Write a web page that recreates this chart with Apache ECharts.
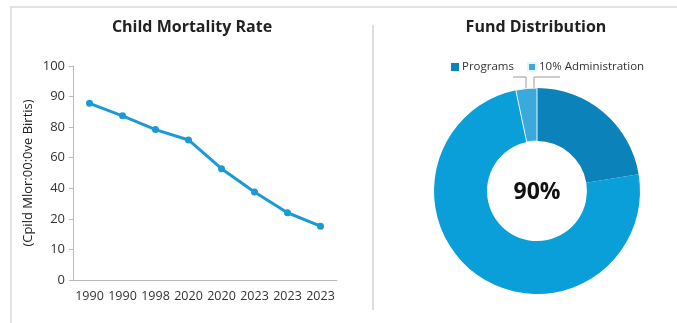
<!DOCTYPE html>
<html><head><meta charset="utf-8">
<script src="https://cdn.jsdelivr.net/npm/echarts@6/dist/echarts.min.js"></script>
<style>html,body{margin:0;padding:0;background:#fff}#c{width:677px;height:323px}</style>
</head><body><div id="c"></div>
<script>
// ---- data ----
var years = ['1990','1990','1998','2020','2020','2023','2023','2023'];
var yTickLabels = [0, 10, 20, 40, 60, 80, 90, 100];
var mortality = [87.8, 83.7, 78.4, 71.6, 52.8, 37.6, 24, 17.6];
var fundNames = ['Programs', 'Other', '10% Administration'];
var fundValues = [22.4, 74.3, 3.3];
var centerText = '90%';

// map a value in label units onto the evenly spaced tick positions
function toPos(v) {
  for (var i = 0; i < yTickLabels.length - 1; i++) {
    var a = yTickLabels[i], b = yTickLabels[i + 1];
    if (v >= a && v <= b) return i + (v - a) / (b - a);
  }
  return yTickLabels.length - 1;
}
var lineData = mortality.map(function (v, i) { return [i, toPos(v)]; });

var font = '"Open Sans", "Noto Sans", sans-serif';
var chart = echarts.init(document.getElementById('c'));
chart.setOption({
  animation: false,
  textStyle: { fontFamily: font },
  title: [
    { text: 'Child Mortality Rate', left: 187, top: 14, textAlign: 'center',
      textStyle: { fontFamily: font, fontSize: 16, fontWeight: 'bold', color: '#222' } },
    { text: 'Fund Distribution', left: 531, top: 14, textAlign: 'center',
      textStyle: { fontFamily: font, fontSize: 16, fontWeight: 'bold', color: '#222' } }
  ],
  legend: {
    data: ['Programs', '10% Administration'],
    left: 446, top: 56, itemWidth: 8, itemHeight: 8, itemGap: 13, icon: 'rect',
    textStyle: { fontFamily: font, fontSize: 11.5, color: '#333', padding: [0, 0, 0, -2] }
  },
  grid: { left: 73, right: 340, top: 66, bottom: 43 },
  xAxis: {
    type: 'category', data: years, boundaryGap: true,
    axisLine: { lineStyle: { color: '#bbb' } },
    axisTick: { show: false },
    axisLabel: { fontSize: 12.5, color: '#333', margin: 10, interval: 0, fontFamily: font }
  },
  yAxis: {
    type: 'value', min: 0, max: yTickLabels.length - 1, interval: 1,
    name: '(Cpild Mlor:00:0ve Birtis)', nameLocation: 'middle', nameGap: 38,
    nameTextStyle: { fontSize: 13, color: '#222', fontFamily: font },
    axisLine: { show: true, lineStyle: { color: '#bbb' } },
    axisTick: { show: true, length: 4, lineStyle: { color: '#bbb' } },
    splitLine: { show: false },
    axisLabel: { fontSize: 13, color: '#333', margin: 8, fontFamily: font,
      formatter: function (v) { return String(yTickLabels[Math.round(v)]); } }
  },
  series: [
    { type: 'line', data: lineData, symbol: 'circle', symbolSize: 7,
      lineStyle: { width: 3, color: '#1b9ad4' }, itemStyle: { color: '#1b9ad4' } },
    { type: 'pie', center: [537, 191], radius: [50, 103], startAngle: 90, clockwise: true,
      label: { show: false }, labelLine: { show: false },
      data: fundNames.map(function (n, i) {
        var colors = ['#0b82b9', '#0a9fd8', '#3aaadc'];
        return { name: n, value: fundValues[i],
          itemStyle: { color: colors[i], borderColor: i === 2 ? '#e8f4fa' : colors[i], borderWidth: i === 2 ? 1 : 0 } };
      })
    }
  ],
  graphic: [
    { type: 'line', shape: { x1: 10, y1: 7, x2: 677, y2: 7 }, style: { stroke: '#e2e2e2', lineWidth: 2 } },
    { type: 'line', shape: { x1: 11, y1: 7, x2: 11, y2: 323 }, style: { stroke: '#e2e2e2', lineWidth: 2 } },
    { type: 'line', shape: { x1: 373, y1: 25, x2: 373, y2: 310 }, style: { stroke: '#dddddd', lineWidth: 2 } },
    { type: 'polyline', shape: { points: [[513, 77], [526, 77], [526, 88]] }, style: { stroke: '#999', lineWidth: 1, fill: null } },
    { type: 'polyline', shape: { points: [[560, 77], [534, 77], [534, 88]] }, style: { stroke: '#999', lineWidth: 1, fill: null } },
    { type: 'text', x: 537, y: 192, style: { text: centerText, x: 0, y: 0, textAlign: 'center', textVerticalAlign: 'middle',
      fontSize: 23, fontWeight: 'bold', fontFamily: font, fill: '#111' } }
  ]
});
</script></body></html>
